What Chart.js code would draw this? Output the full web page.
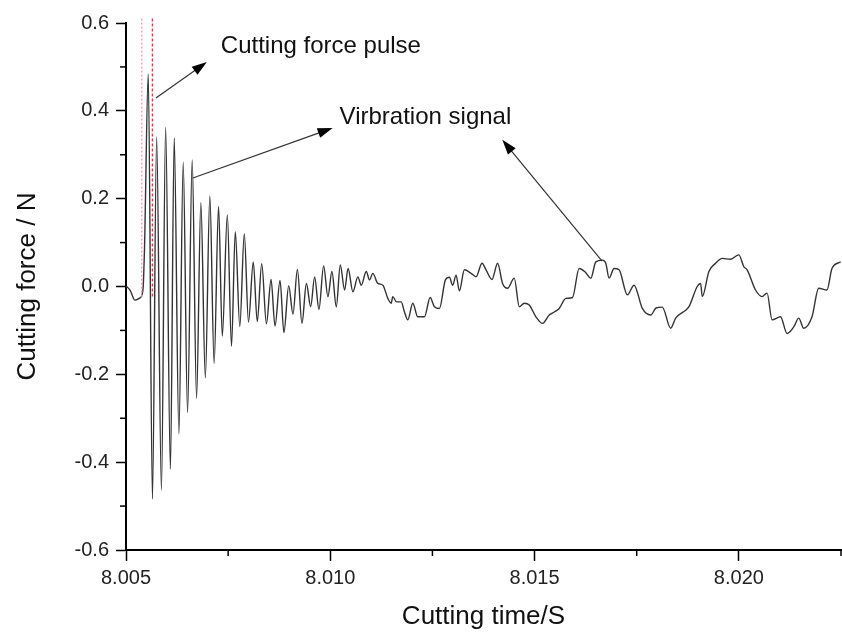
<!DOCTYPE html>
<html>
<head>
<meta charset="utf-8">
<script src="https://cdn.jsdelivr.net/npm/chart.js@4.4.1/dist/chart.umd.min.js"></script>
<style>
  html, body { margin: 0; padding: 0; background: #fff; }
  #wrap { width: 842px; height: 632px; position: relative; }
</style>
</head>
<body>
<div id="wrap"><canvas id="forceChart"></canvas></div>
<script>
// cutting time (s)
const cutTime = [
  8.005000, 8.005098, 8.005220, 8.005342, 8.005415, 8.005452, 8.005545, 8.005647,
  8.005750, 8.005867, 8.005970, 8.006087, 8.006180, 8.006295, 8.006400, 8.006507,
  8.006620, 8.006727, 8.006832, 8.006942, 8.007052, 8.007157, 8.007265, 8.007357,
  8.007480, 8.007582, 8.007675, 8.007785, 8.007895, 8.007998, 8.008115, 8.008213,
  8.008322, 8.008437, 8.008550, 8.008647, 8.008770, 8.008865, 8.008982, 8.009087,
  8.009195, 8.009307, 8.009415, 8.009520, 8.009617, 8.009722, 8.009837, 8.009942,
  8.010040, 8.010147, 8.010245, 8.010350, 8.010436, 8.010553, 8.010675, 8.010758,
  8.010880, 8.010961, 8.011042, 8.011164, 8.011286, 8.011408, 8.011491, 8.011530,
  8.011621, 8.011735, 8.011816, 8.011897, 8.012019, 8.012141, 8.012305, 8.012444,
  8.012549, 8.012671, 8.012818, 8.012915, 8.012996, 8.013079, 8.013160, 8.013282,
  8.013445, 8.013568, 8.013714, 8.013812, 8.013958, 8.014095, 8.014217, 8.014340,
  8.014503, 8.014625, 8.014748, 8.014870, 8.015033, 8.015195, 8.015358, 8.015480,
  8.015603, 8.015766, 8.015928, 8.016091, 8.016238, 8.016377, 8.016499, 8.016660,
  8.016743, 8.016824, 8.016946, 8.017068, 8.017271, 8.017435, 8.017638, 8.017843,
  8.017972, 8.018126, 8.018331, 8.018454, 8.018698, 8.018779, 8.018981, 8.019064,
  8.019104, 8.019267, 8.019431, 8.019592, 8.019797, 8.020000, 8.020122, 8.020203,
  8.020408, 8.020569, 8.020691, 8.020813, 8.021019, 8.021180, 8.021343, 8.021466,
  8.021588, 8.021790, 8.021954, 8.022157, 8.022279, 8.022492
];

// cutting force (N)
const cutForce = [
  0.001, -0.008, -0.031, -0.026, -0.008, 0.083, 0.484, -0.484,
  0.341, -0.464, 0.363, -0.416, 0.338, -0.336, 0.283, -0.287,
  0.288, -0.255, 0.191, -0.208, 0.206, -0.175, 0.182, -0.113,
  0.163, -0.136, 0.125, -0.091, 0.120, -0.081, 0.056, -0.080,
  0.052, -0.085, 0.016, -0.090, 0.014, -0.105, 0.002, -0.063,
  0.039, -0.084, 0.007, -0.046, 0.022, -0.052, 0.047, -0.023,
  0.034, -0.046, 0.049, -0.008, 0.041, -0.012, 0.022, 0.003,
  0.034, 0.015, 0.030, 0.007, 0.003, -0.027, -0.038, -0.023,
  -0.035, -0.035, -0.058, -0.076, -0.038, -0.069, -0.069, -0.025,
  -0.046, -0.050, 0.015, 0.021, 0.003, 0.026, -0.010, 0.038,
  0.030, 0.022, 0.053, 0.038, 0.016, 0.053, 0.007, -0.004,
  0.019, -0.046, -0.038, -0.042, -0.069, -0.084, -0.065, -0.058,
  -0.050, -0.027, -0.025, 0.041, 0.033, 0.019, 0.056, 0.060,
  0.053, 0.019, 0.041, 0.038, -0.019, 0.003, -0.050, -0.065,
  -0.049, -0.047, -0.095, -0.072, -0.054, -0.046, 0.000, 0.007,
  -0.023, 0.034, 0.053, 0.064, 0.062, 0.072, 0.045, 0.038,
  -0.008, -0.023, -0.015, -0.076, -0.069, -0.107, -0.092, -0.072,
  -0.095, -0.069, -0.004, -0.008, 0.041, 0.056
];

// the two marker lines around the force pulse
const pulseStart = [8.005384, 8.005384];
const pulseEnd = [8.005647, 8.005647];
const pulseSpan = [0.61, -0.025];

// axis ticks
const xTicks = [8.005, 8.010, 8.015, 8.020];
const xMinorTicks = [8.0075, 8.0125, 8.0175, 8.0225];
const yTicks = [-0.6, -0.4, -0.2, 0.0, 0.2, 0.4, 0.6];
const yMinorTicks = [-0.5, -0.3, -0.1, 0.1, 0.3, 0.5];

// notes with arrows, in data units
const notes = [
  { text: 'Cutting force pulse', tx: 8.007321, ty: 0.546, from: [8.005733, 0.429], to: [8.006979, 0.511] },
  { text: 'Virbration signal', tx: 8.010228, ty: 0.384, from: [8.006637, 0.247], to: [8.010057, 0.361] },
  { text: '', from: [8.016653, 0.058], to: [8.014210, 0.334] }
];

const FONT = "'Liberation Sans', Arial, sans-serif";

function toPoints(xs, ys) {
  return xs.map((x, i) => ({ x: x, y: ys[i] }));
}

// minor ticks + arrows drawn on top
const extrasPlugin = {
  id: 'extras',
  afterDraw(chart) {
    const c = chart.ctx;
    const xs = chart.scales.x, ys = chart.scales.y;
    const area = chart.chartArea;
    c.save();
    c.strokeStyle = '#000';
    c.lineWidth = 1.5;
    xMinorTicks.forEach(v => {
      const px = xs.getPixelForValue(v);
      c.beginPath();
      c.moveTo(px, area.bottom);
      c.lineTo(px, area.bottom + 6);
      c.stroke();
    });
    yMinorTicks.forEach(v => {
      const py = ys.getPixelForValue(v);
      c.beginPath();
      c.moveTo(area.left, py);
      c.lineTo(area.left - 6, py);
      c.stroke();
    });

    notes.forEach(n => {
      const x1 = xs.getPixelForValue(n.from[0]), y1 = ys.getPixelForValue(n.from[1]);
      const x2 = xs.getPixelForValue(n.to[0]), y2 = ys.getPixelForValue(n.to[1]);
      const ang = Math.atan2(y2 - y1, x2 - x1);
      c.strokeStyle = '#333';
      c.lineWidth = 1.2;
      c.beginPath();
      c.moveTo(x1, y1);
      c.lineTo(x2 - 10 * Math.cos(ang), y2 - 10 * Math.sin(ang));
      c.stroke();
      // arrow head
      c.fillStyle = '#000';
      c.beginPath();
      c.moveTo(x2, y2);
      c.lineTo(x2 - 15 * Math.cos(ang) + 5 * Math.sin(ang), y2 - 15 * Math.sin(ang) - 5 * Math.cos(ang));
      c.lineTo(x2 - 15 * Math.cos(ang) - 5 * Math.sin(ang), y2 - 15 * Math.sin(ang) + 5 * Math.cos(ang));
      c.closePath();
      c.fill();
      if (n.text) {
        c.font = '24px ' + FONT;
        c.fillStyle = '#111';
        c.textAlign = 'left';
        c.textBaseline = 'middle';
        c.fillText(n.text, xs.getPixelForValue(n.tx), ys.getPixelForValue(n.ty));
      }
    });
    c.restore();
  }
};

const ctx = document.getElementById('forceChart').getContext('2d');
new Chart(ctx, {
  type: 'scatter',
  data: {
    datasets: [
      {
        label: 'pulse start',
        data: toPoints(pulseStart, pulseSpan),
        showLine: true,
        borderColor: '#f0a0aa',
        borderWidth: 1.4,
        borderDash: [2, 2],
        pointRadius: 0,
        clip: false
      },
      {
        label: 'pulse end',
        data: toPoints(pulseEnd, pulseSpan),
        showLine: true,
        borderColor: '#c04858',
        borderWidth: 1.4,
        borderDash: [3, 2],
        pointRadius: 0,
        clip: false
      },
      {
        label: 'Cutting force',
        data: toPoints(cutTime, cutForce),
        showLine: true,
        borderColor: '#333',
        borderWidth: 1.4,
        pointRadius: 0,
        cubicInterpolationMode: 'monotone'
      }
    ]
  },
  options: {
    responsive: true,
    maintainAspectRatio: false,
    animation: false,
    layout: { padding: { top: 23, right: 1, left: 0, bottom: 0 } },
    plugins: {
      legend: { display: false },
      tooltip: { enabled: false }
    },
    scales: {
      x: {
        type: 'linear',
        min: 8.005,
        max: 8.0225,
        afterFit: s => { s.height = 82; },
        afterBuildTicks: s => { s.ticks = xTicks.map(v => ({ value: v })); },
        border: { display: true, color: '#000', width: 2 },
        grid: { drawOnChartArea: false, drawTicks: true, tickLength: 11, tickColor: '#000', tickWidth: 1.5 },
        ticks: {
          color: '#222',
          padding: 5,
          maxRotation: 0,
          font: { family: FONT, size: 20 },
          callback: v => v.toFixed(3)
        },
        title: {
          display: true,
          text: 'Cutting time/S',
          color: '#111',
          font: { family: FONT, size: 26 },
          padding: { top: 0, bottom: 0 }
        }
      },
      y: {
        type: 'linear',
        min: -0.6,
        max: 0.6,
        afterFit: s => { s.width = 126; },
        afterBuildTicks: s => { s.ticks = yTicks.map(v => ({ value: v })); },
        border: { display: true, color: '#000', width: 2 },
        grid: { drawOnChartArea: false, drawTicks: true, tickLength: 10, tickColor: '#000', tickWidth: 1.5 },
        ticks: {
          color: '#222',
          padding: 7,
          font: { family: FONT, size: 20 },
          callback: v => v.toFixed(1)
        },
        title: {
          display: true,
          text: 'Cutting force / N',
          color: '#111',
          font: { family: FONT, size: 26 },
          padding: { top: 12, bottom: 0 }
        }
      }
    }
  },
  plugins: [extrasPlugin]
});
</script>
</body>
</html>
